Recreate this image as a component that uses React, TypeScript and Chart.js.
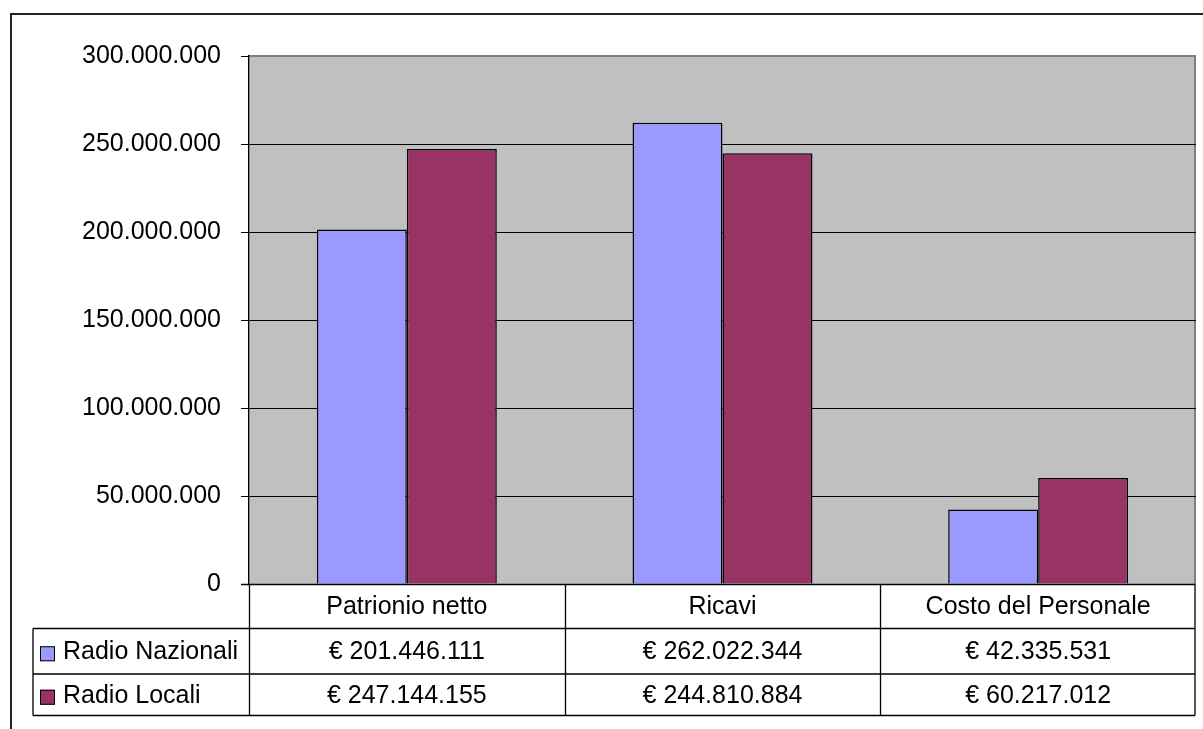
import React, { useEffect, useRef } from "react";
import { Chart, registerables } from "chart.js";

Chart.register(...registerables);

const categories = ["Patrionio netto", "Ricavi", "Costo del Personale"];
const seriesNames = ["Radio Nazionali", "Radio Locali"];
const radioNazionali = [201446111, 262022344, 42335531];
const radioLocali = [247144155, 244810884, 60217012];
const seriesColors = ["#9999FF", "#993366"];
const yMax = 300000000;
const yStep = 50000000;

const FONT = "'Liberation Sans', Arial, sans-serif";
const fmt = (v: number) => String(Math.round(v)).replace(/\B(?=(\d{3})+(?!\d))/g, ".");

const tablePlugin = {
  id: "excelTable",
  beforeDraw(chart: any) {
    const { ctx, chartArea } = chart;
    ctx.save();
    ctx.fillStyle = "#ffffff";
    ctx.fillRect(0, 0, chart.width, chart.height);
    ctx.fillStyle = "#C0C0C0";
    ctx.fillRect(chartArea.left, chartArea.top, chartArea.right - chartArea.left, chartArea.bottom - chartArea.top);
    // plot border (gray)
    ctx.strokeStyle = "#808080";
    ctx.lineWidth = 2;
    ctx.beginPath();
    ctx.moveTo(chartArea.left, chartArea.top);
    ctx.lineTo(chartArea.right - 1, chartArea.top);
    ctx.lineTo(chartArea.right - 1, chartArea.bottom);
    ctx.stroke();
    // outer frame
    ctx.strokeStyle = "#222222";
    ctx.lineWidth = 2;
    ctx.beginPath();
    ctx.moveTo(11, chart.height + 5);
    ctx.lineTo(11, 14);
    ctx.lineTo(chart.width + 5, 14);
    ctx.stroke();
    ctx.restore();
  },
  afterDraw(chart: any) {
    const { ctx, chartArea } = chart;
    const xs = chart.scales.x;
    const n = categories.length;
    const left = chartArea.left;
    const right = chartArea.right - 1;
    const catW = (chartArea.right - chartArea.left) / n;
    const top = chartArea.bottom;
    const r1 = top + 44.5;
    const r2 = top + 90;
    const r3 = top + 131.5;
    const legendLeft = 33;
    ctx.save();
    ctx.strokeStyle = "#000000";
    ctx.lineWidth = 1.3;
    ctx.beginPath();
    // axis line
    ctx.moveTo(left - 8, Math.round(top) + 0.5);
    ctx.lineTo(right, Math.round(top) + 0.5);
    // horizontal row lines
    ctx.moveTo(legendLeft, r1);
    ctx.lineTo(right, r1);
    ctx.moveTo(legendLeft, r2);
    ctx.lineTo(right, r2);
    ctx.moveTo(legendLeft, r3);
    ctx.lineTo(right, r3);
    // vertical
    ctx.moveTo(legendLeft, r1);
    ctx.lineTo(legendLeft, r3);
    for (let i = 0; i <= n; i++) {
      const x = i === n ? right : Math.round(left + catW * i) + 0.5;
      ctx.moveTo(x, top);
      ctx.lineTo(x, r3);
    }
    ctx.stroke();

    ctx.fillStyle = "#000000";
    ctx.font = `25px ${FONT}`;
    ctx.textBaseline = "middle";
    ctx.textAlign = "center";
    const data = [radioNazionali, radioLocali];
    categories.forEach((c, i) => {
      const cx = xs.getPixelForValue(i);
      ctx.fillText(c, cx, (top + r1) / 2 + 1);
      ctx.fillText("€ " + fmt(data[0][i]), cx, (r1 + r2) / 2 + 1);
      ctx.fillText("€ " + fmt(data[1][i]), cx, (r2 + r3) / 2 + 1);
    });
    // legend keys
    ctx.textAlign = "left";
    seriesNames.forEach((s, j) => {
      const cy = j === 0 ? (r1 + r2) / 2 : (r2 + r3) / 2;
      ctx.fillStyle = seriesColors[j];
      ctx.fillRect(40, cy - 5, 15, 15);
      ctx.strokeStyle = "#000000";
      ctx.lineWidth = 1;
      ctx.strokeRect(40.5, cy - 4.5, 14, 14);
      ctx.fillStyle = "#000000";
      ctx.fillText(s, 63, cy + 1);
    });
    ctx.restore();
  },
};

export default function App() {
  const ref = useRef<HTMLCanvasElement>(null);
  useEffect(() => {
    document.body.style.margin = "0";
    const chart = new Chart(ref.current as HTMLCanvasElement, {
      type: "bar",
      data: {
        labels: categories,
        datasets: [
          { label: seriesNames[0], data: radioNazionali, backgroundColor: seriesColors[0], borderColor: "#000000", borderWidth: 1.5 },
          { label: seriesNames[1], data: radioLocali, backgroundColor: seriesColors[1], borderColor: "#000000", borderWidth: 1.5 },
        ],
      },
      options: {
        animation: false,
        responsive: false,
        devicePixelRatio: 1,
        layout: { padding: { top: 56, bottom: 145, left: 0, right: 7 } },
        datasets: { bar: { categoryPercentage: 0.57, barPercentage: 1 } },
        plugins: { legend: { display: false }, tooltip: { enabled: false } },
        scales: {
          x: { display: false },
          y: {
            min: 0,
            max: yMax,
            afterFit: (s: any) => { s.width = 249; },
            ticks: {
              stepSize: yStep,
              padding: 20,
              color: "#000000",
              font: { family: FONT, size: 25 },
              callback: (v: any) => fmt(Number(v)),
            },
            grid: {
              color: (c: any) => (c.tick && c.tick.value === yMax ? "#808080" : c.tick && c.tick.value === 0 ? "rgba(0,0,0,0)" : "#000000"),
              tickColor: "#000000",
              tickLength: 8,
              lineWidth: 1,
            },
            border: { display: true, color: "#000000", width: 1.3 },
          },
        },
      },
      plugins: [tablePlugin],
    } as any);
    return () => chart.destroy();
  }, []);
  return (
    <div style={{ width: 1203, height: 729 }}>
      <canvas ref={ref} width={1203} height={729} style={{ display: "block" }} />
    </div>
  );
}
